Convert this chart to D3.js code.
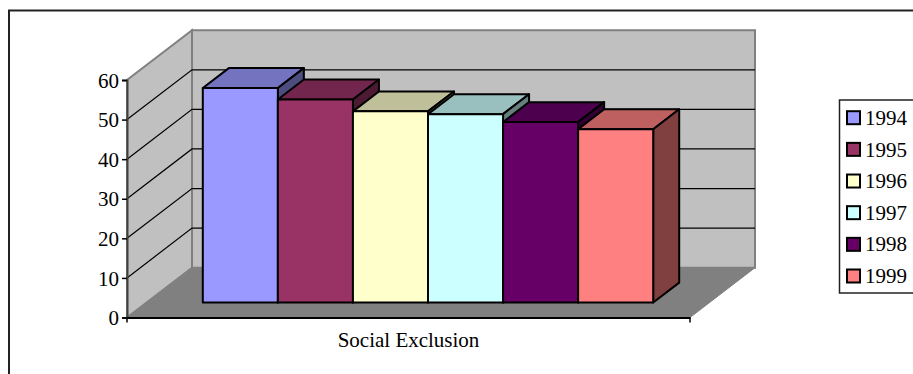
<!DOCTYPE html>
<html>
<head>
<meta charset="utf-8">
<script src="https://cdn.jsdelivr.net/npm/d3@7"></script>
<style>
  html, body { margin: 0; padding: 0; background: #fff; }
  svg { display: block; }
  text { font-family: "Liberation Serif", "Times New Roman", serif; fill: #000; }
</style>
</head>
<body>
<svg id="chart" width="913" height="374"></svg>
<script>
// Chart data
const categories = ["Social Exclusion"];
const years = ["1994", "1995", "1996", "1997", "1998", "1999"];
const values = [54.2, 51.3, 48.3, 47.6, 45.6, 43.8];
const colors = ["#9999FF", "#993366", "#FFFFCC", "#CCFFFF", "#660066", "#FF8080"];
const yTicks = [0, 10, 20, 30, 40, 50, 60];

const svg = d3.select("#chart");
const fontSize = 21;

// Oblique projection: depth z in [0,1] shifts right and up
const depthX = 65, depthY = 49.8;
const proj = (x, y, z) => [x + depthX * z, y - depthY * z];

const x0 = d3.scaleBand().domain(categories).range([127, 690]);
const gapRatio = 1.5; // 150% gap width
const y = d3.scaleLinear().domain([0, 60]).range([317.5, 80]);

const zFront = 0.3, zBack = 0.7;

// Outer frame
svg.append("rect")
  .attr("x", 9).attr("y", 10.5).attr("width", 960).attr("height", 420)
  .attr("fill", "none").attr("stroke", "#222").attr("stroke-width", 2);

const wallFill = "#C0C0C0", wallStroke = "#808080";
const xL = x0.range()[0], xR = x0.range()[1];
const y0 = y(0), yTop = y(60);
const line = d3.line();

// Side wall
svg.append("path")
  .attr("d", line([proj(xL, y0, 0), proj(xL, yTop, 0), proj(xL, yTop, 1), proj(xL, y0, 1)]) + "Z")
  .attr("fill", wallFill).attr("stroke", wallStroke).attr("stroke-width", 2);

// Back wall
svg.append("path")
  .attr("d", line([proj(xL, y0, 1), proj(xL, yTop, 1), proj(xR, yTop, 1), proj(xR, y0, 1)]) + "Z")
  .attr("fill", wallFill).attr("stroke", wallStroke).attr("stroke-width", 2);

// Floor
svg.append("path")
  .attr("d", line([proj(xL, y0, 0), proj(xR, y0, 0), proj(xR, y0, 1), proj(xL, y0, 1)]) + "Z")
  .attr("fill", "#808080").attr("stroke", "#808080").attr("stroke-width", 1);

// Gridlines across side and back walls
const grid = yTicks.filter(t => t > 0 && t < 60);
svg.append("g").selectAll("path").data(grid).join("path")
  .attr("d", t => line([proj(xL, y(t), 0), proj(xL, y(t), 1), proj(xR, y(t), 1)]))
  .attr("fill", "none").attr("stroke", "#000").attr("stroke-width", 1.2);

// Value axis
const yAxis = d3.axisLeft(y).tickValues(yTicks).tickSize(5).tickPadding(3).tickFormat(d3.format("d"));
const gy = svg.append("g").attr("transform", `translate(${xL},0)`).call(yAxis);
gy.select(".domain").attr("stroke", "#404040").attr("stroke-width", 2);
gy.selectAll(".tick line").attr("stroke", "#000").attr("stroke-width", 1.5);
gy.selectAll(".tick text").attr("font-size", fontSize).attr("font-family", "Liberation Serif").attr("fill", "#000").attr("dy", "0.34em");

// Category axis
const xAxis = d3.axisBottom(x0).tickSize(0).tickPadding(15);
const gx = svg.append("g").attr("transform", `translate(0,${y0})`).call(xAxis);
gx.select(".domain").attr("stroke", "#000").attr("stroke-width", 2);
gx.selectAll(".tick text").attr("font-size", fontSize).attr("font-family", "Liberation Serif").attr("fill", "#000");
gx.selectAll(".edge").data(x0.range()).join("line").attr("class", "edge")
  .attr("x1", d => d).attr("x2", d => d).attr("y1", 0).attr("y2", 5)
  .attr("stroke", "#000").attr("stroke-width", 1.5);

// Bars
const shade = (c, k) => { const r = d3.rgb(c); return d3.rgb(r.r * k, r.g * k, r.b * k).formatHex(); };
categories.forEach(cat => {
  const bw = x0.bandwidth();
  const gap = bw * gapRatio / (years.length + gapRatio);
  const xs = d3.scaleBand().domain(years).range([x0(cat) + gap / 2, x0(cat) + bw - gap / 2]);
  const g = svg.append("g");
  years.forEach((yr, i) => {
    const a = xs(yr), b = a + xs.bandwidth();
    const top = y(values[i]);
    const bar = g.append("g").attr("stroke", "#000").attr("stroke-width", 2).attr("stroke-linejoin", "round");
    // top face
    bar.append("path")
      .attr("d", line([proj(a, top, zFront), proj(b, top, zFront), proj(b, top, zBack), proj(a, top, zBack)]) + "Z")
      .attr("fill", shade(colors[i], 0.75));
    // side face
    bar.append("path")
      .attr("d", line([proj(b, y0, zFront), proj(b, top, zFront), proj(b, top, zBack), proj(b, y0, zBack)]) + "Z")
      .attr("fill", shade(colors[i], 0.5));
    // front face
    bar.append("path")
      .attr("d", line([proj(a, y0, zFront), proj(b, y0, zFront), proj(b, top, zFront), proj(a, top, zFront)]) + "Z")
      .attr("fill", colors[i]);
  });
});

// Legend
const legend = svg.append("g");
legend.append("rect")
  .attr("x", 839.5).attr("y", 100).attr("width", 90).attr("height", 193)
  .attr("fill", "#fff").attr("stroke", "#222").attr("stroke-width", 1.5);
const ly = d3.scalePoint().domain(years).range([117.7, 276]);
const items = legend.selectAll("g.item").data(years).join("g").attr("class", "item")
  .attr("transform", d => `translate(0,${ly(d)})`);
items.append("rect")
  .attr("x", 847).attr("y", -6.5).attr("width", 13).attr("height", 13)
  .attr("fill", (d, i) => colors[i]).attr("stroke", "#000").attr("stroke-width", 2);
items.append("text")
  .attr("x", 865).attr("dy", "0.34em").attr("font-size", fontSize)
  .text(d => d);
</script>
</body>
</html>
